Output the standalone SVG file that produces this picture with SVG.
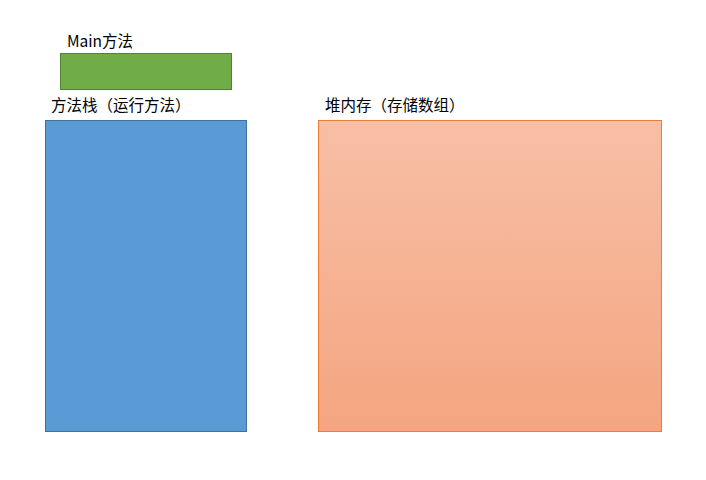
<svg xmlns="http://www.w3.org/2000/svg" width="706" height="480" viewBox="0 0 706 480">
  <style>
    .label { font-family: "Microsoft YaHei", "Noto Sans CJK SC", "Liberation Sans", sans-serif; font-size: 15.5px; fill: #000000; }
  </style>
  <defs>
    <linearGradient id="heapGrad" x1="0" y1="0" x2="0" y2="1">
      <stop offset="0" stop-color="#f7bfa6"/>
      <stop offset="1" stop-color="#f4a580"/>
    </linearGradient>
  </defs>
  <rect width="706" height="480" fill="#ffffff"/>
  <g id="main-method">
    <rect x="60.5" y="53.5" width="171" height="36" fill="#70ad47" stroke="#548235" stroke-width="1"/>
    <text class="label" x="67" y="47">Main方法</text>
  </g>
  <g id="method-stack">
    <rect x="45.5" y="120.5" width="201" height="311" fill="#5b9bd5" stroke="#41719c" stroke-width="1"/>
    <text class="label" x="51" y="111">方法栈（运行方法）</text>
  </g>
  <g id="heap">
    <rect x="318.5" y="120.5" width="343" height="311" fill="url(#heapGrad)" stroke="#ed7d31" stroke-width="1"/>
    <text class="label" x="325" y="111">堆内存（存储数组）</text>
  </g>
  <g id="connectors"/>
</svg>
